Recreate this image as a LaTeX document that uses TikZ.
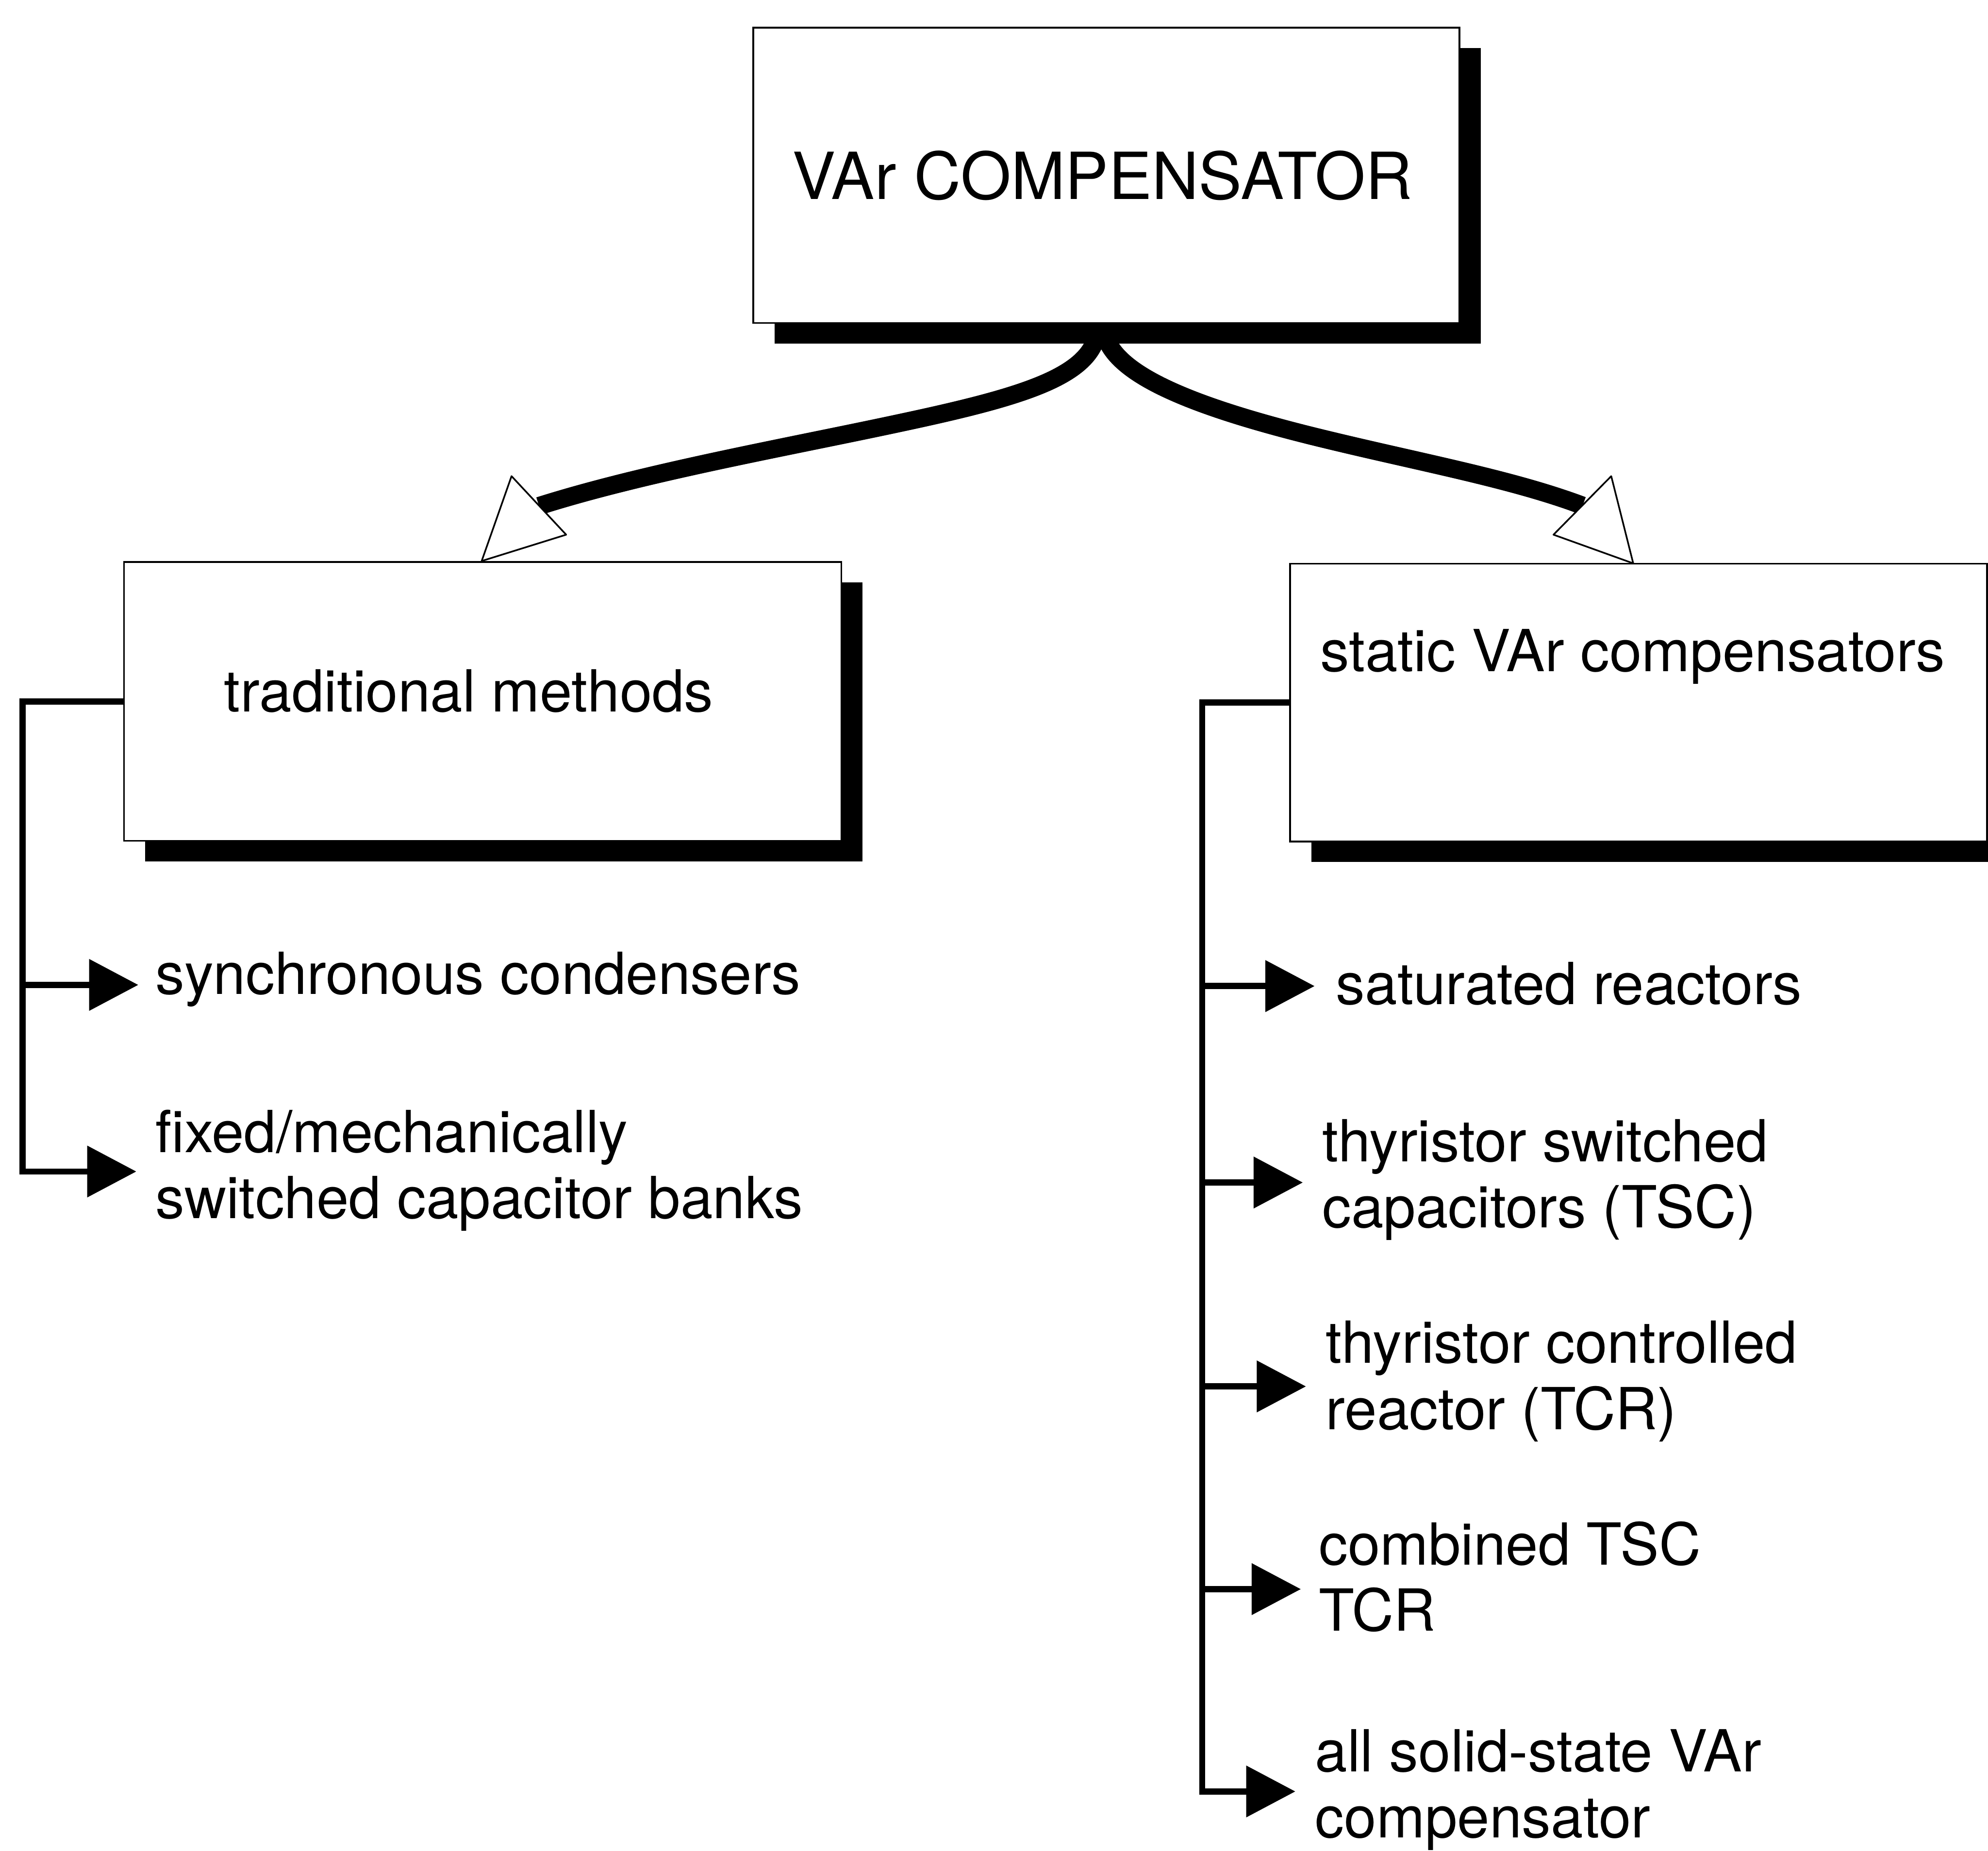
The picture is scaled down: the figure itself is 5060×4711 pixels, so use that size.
\documentclass[tikz,border=0pt]{standalone}
\usepackage{fontspec}
\setmainfont{TeX Gyre Heros}
\usetikzlibrary{shadows,arrows.meta,calc}
\begin{document}
\begin{tikzpicture}[x=0.01cm,y=-0.01cm,
  box/.style={draw, line width=1.3pt, fill=white, rectangle, inner sep=0pt,
    drop shadow={shadow xshift=0.54cm, shadow yshift=-0.52cm, fill=black, opacity=1}},
  conn/.style={line width=4.5pt, line cap=butt, line join=miter},
  tip/.style={-{Triangle[length=35.6pt,width=36.4pt]}},
  bigcurve/.style={line width=0.46cm, line cap=butt},
  hollow/.style={draw, fill=white, line width=1.2pt, line join=round},
  lbl/.style={anchor=base west, inner sep=0pt, font=\fontsize{42}{47.8}\selectfont},
  ttl/.style={anchor=base, inner sep=0pt, font=\fontsize{47}{54}\selectfont}]
\useasboundingbox (0,0) rectangle (5060,4711);
\clip (0,0) rectangle (5060,4711);

% boxes
\node[box, minimum width=17.96cm, minimum height=7.51cm] (top) at (2816,446.5) {};
\node[ttl] (toptext) at (2806,507) {VAr COMPENSATOR};
\node[box, minimum width=18.25cm, minimum height=7.09cm] (trad) at (1228.5,1785.5) {};
\node[lbl] (tradtext) at (570,1811) {traditional methods};
\node[box, minimum width=17.73cm, minimum height=7.07cm] (svc) at (4170.5,1788.5) {};
\node[lbl] (svctext) at (3360,1709) {static VAr compensators};

% thick curved connectors
\coordinate (lstart) at (2790,860);
\coordinate (rstart) at (2815,860);
\coordinate (lend) at (1372,1288);
\coordinate (rend) at (4028,1287);
\draw[bigcurve] (lstart) .. controls (2760,960) and (2600,1010) .. (2312,1072)
  .. controls (2012,1137) and (1650,1200) .. (lend);
\draw[bigcurve] (rstart) .. controls (2850,960) and (3050,1040) .. (3373,1118)
  .. controls (3620,1178) and (3850,1220) .. (rend);
\draw[hollow] (1302,1212) -- (1441,1361) -- (1226,1428) -- cycle;
\draw[hollow] (4101,1212) -- (3954,1361) -- (4157,1434) -- cycle;

% left items
\node[lbl] (sync) at (395,2531) {synchronous condensers};
\node[lbl] (fixed) at (395,2933) {\begin{tabular}[t]{@{}l@{}}fixed/mechanically\\switched capacitor banks\end{tabular}};

\coordinate (lbusA) at (57,2507);
\coordinate (lbusB) at (57,2982);
\coordinate (tipsync) at (352,2507);
\coordinate (tipfixed) at (347,2982);
\draw[conn,tip] (trad.west) -| (lbusB) -- (tipfixed);
\draw[conn,tip] (lbusA) -- (tipsync);

% right items
\node[lbl] (sat) at (3400,2556) {saturated reactors};
\node[lbl] (tsc) at (3365,2957) {\begin{tabular}[t]{@{}l@{}}thyristor switched\\capacitors (TSC)\end{tabular}};
\node[lbl] (tcr) at (3374,3470) {\begin{tabular}[t]{@{}l@{}}thyristor controlled\\reactor (TCR)\end{tabular}};
\node[lbl] (comb) at (3356,3983) {\begin{tabular}[t]{@{}l@{}}combined TSC\\TCR\end{tabular}};
\node[lbl] (solid) at (3347,4509) {\begin{tabular}[t]{@{}l@{}}all solid-state VAr\\compensator\end{tabular}};

\coordinate (rbusA) at (3060,2510);
\coordinate (rbusB) at (3060,3010);
\coordinate (rbusC) at (3060,3529);
\coordinate (rbusD) at (3060,4045);
\coordinate (rbusE) at (3060,4560);
\coordinate (tipsat) at (3346,2510);
\coordinate (tiptsc) at (3316,3010);
\coordinate (tiptcr) at (3324,3529);
\coordinate (tipcomb) at (3311,4045);
\coordinate (tipsolid) at (3297,4560);
\draw[conn,tip] (svc.west) -| (rbusE) -- (tipsolid);
\draw[conn,tip] (rbusA) -- (tipsat);
\draw[conn,tip] (rbusB) -- (tiptsc);
\draw[conn,tip] (rbusC) -- (tiptcr);
\draw[conn,tip] (rbusD) -- (tipcomb);
\end{tikzpicture}
\end{document}
